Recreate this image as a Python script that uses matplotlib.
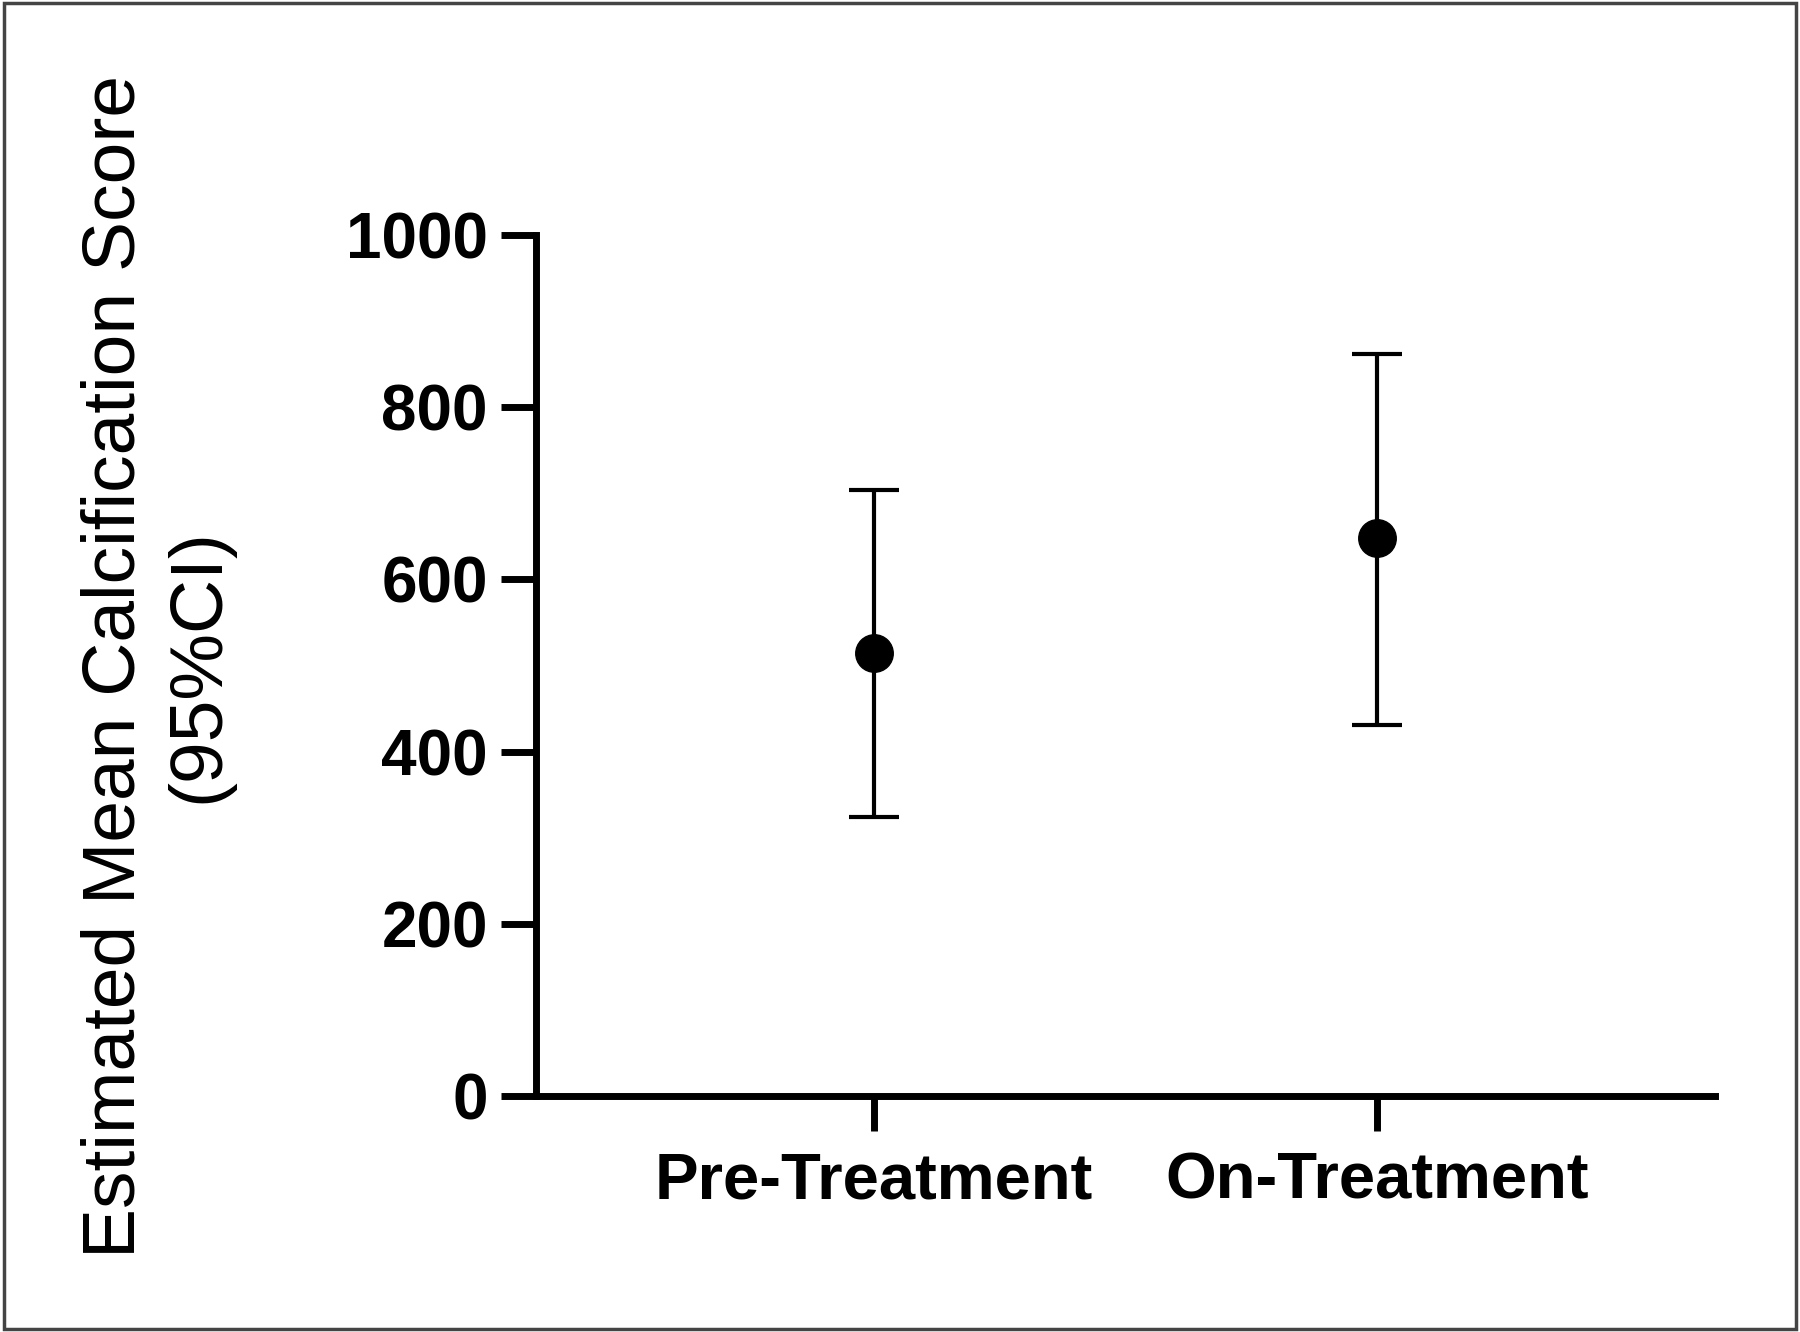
import matplotlib
matplotlib.use('Agg')
import matplotlib.pyplot as plt
from matplotlib.patches import Rectangle

plt.rcParams['font.family'] = ['Liberation Sans', 'DejaVu Sans']

# data
groups = ['Pre-Treatment', 'On-Treatment']
means = [515, 648]
ci_low = [324, 431]
ci_high = [704, 862]
yticks = [0, 200, 400, 600, 800, 1000]

fig = plt.figure(figsize=(18, 13.32), dpi=100)
ax = fig.add_axes([0.298, 0.177, 0.655, 0.6467])

xs = list(range(len(groups)))
err = [[m - lo for m, lo in zip(means, ci_low)],
       [hi - m for m, hi in zip(means, ci_high)]]
ax.errorbar(xs, means, yerr=err, fmt='o', color='black', ms=27,
            elinewidth=3.0, capsize=18, capthick=3.0)

ax.set_xlim(-0.67, 1.672)
ax.set_ylim(0, 1000)
ax.set_yticks(yticks)
ax.set_xticks(xs)
ax.set_xticklabels(groups)

for s in ['top', 'right']:
    ax.spines[s].set_visible(False)
for s in ['left', 'bottom']:
    ax.spines[s].set_linewidth(5.0)
    ax.spines[s].set_capstyle('projecting')
ax.tick_params(axis='both', length=25, width=5.0)
ax.tick_params(axis='x', pad=15, labelsize=47)
ax.tick_params(axis='y', pad=10, labelsize=46)
for lab in ax.get_xticklabels() + ax.get_yticklabels():
    lab.set_fontweight('bold')

fig.text(0.087, 0.5, 'Estimated Mean Calcification Score\n(95%CI)',
         rotation=90, ha='center', va='center', fontsize=54,
         linespacing=1.28, multialignment='center')

# outer frame
fig.patches.append(Rectangle((0.002, 0.002), 0.996, 0.996,
                             transform=fig.transFigure, fill=False,
                             edgecolor='#444444', linewidth=2.5))

fig.savefig('out.png', dpi=100)
